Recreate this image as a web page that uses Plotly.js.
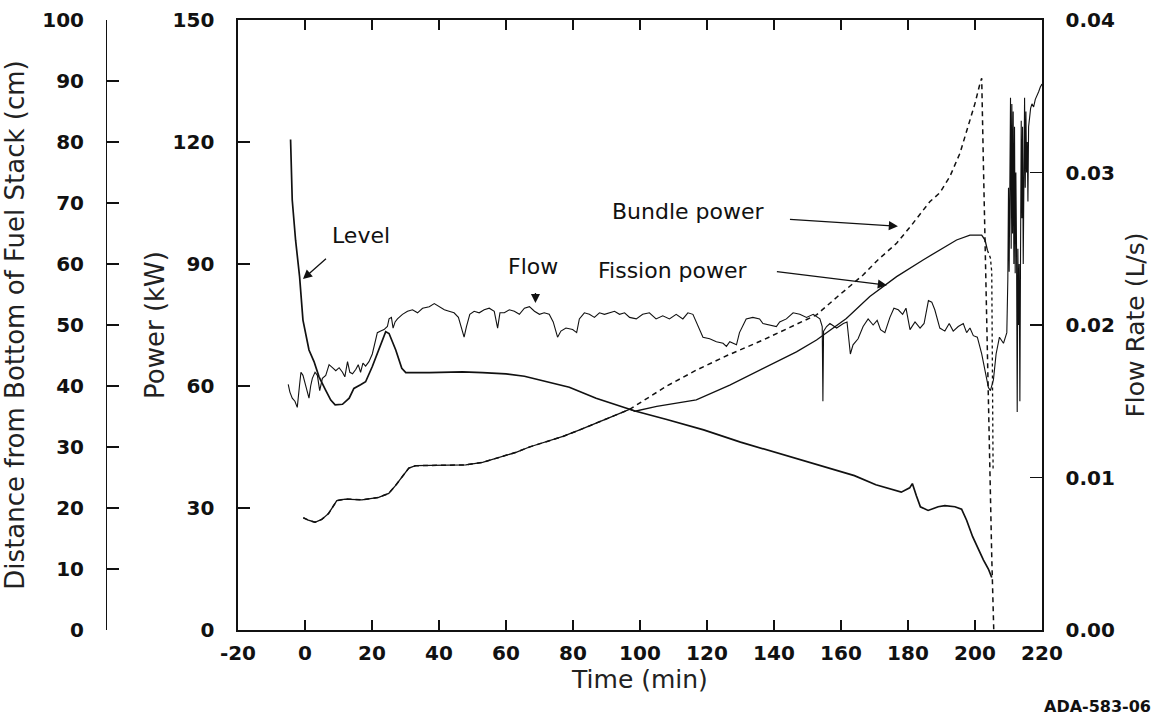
<!DOCTYPE html>
<html><head><meta charset="utf-8">
<script src="https://cdn.plot.ly/plotly-3.0.1.min.js"></script>
<style>html,body{margin:0;padding:0;background:#fff}#chart{width:1159px;height:719px}</style>
</head><body><div id="chart"></div>
<script>
// ---- Data ----
const timeTicks = [-20,0,20,40,60,80,100,120,140,160,180,200,220];
const timeTickText = ['-20','0','20','40','60','80','100','120','140','160','180','200','220'];
const powerTicks = [0,30,60,90,120,150];
const distTicks = [0,10,20,30,40,50,60,70,80,90,100];
const flowTicks = [0,0.01,0.02,0.03,0.04];

// Level (cm, left outer axis)
const levelT = [-4.3,-3.8,-2.8,-1.6,-0.6,1.2,2.7,4.2,6.2,7.7,9.0,11.2,13.2,14.6,16.6,18.1,20.1,22.1,24.1,25.1,27.1,28.9,30.1,37.1,47,53,60,65.5,72,78.9,86.9,96.9,98.5,108,119,130,140,151,158,164,170.4,175,178,180.5,181.3,182.5,183.7,186,189,191,194,196,197.5,199.3,201,202.5,204,205];
const levelD = [80.4,70.5,63.9,57.9,50.8,45.9,44.0,41.5,39.3,37.7,36.9,37.0,38.0,39.6,40.2,40.7,43.2,45.9,48.9,48.6,45.9,42.9,42.2,42.2,42.3,42.2,42.0,41.6,40.7,39.8,38.0,36.3,35.9,34.5,32.8,30.8,29.2,27.5,26.3,25.3,23.8,23.0,22.6,23.3,24.0,22.0,20.2,19.6,20.2,20.4,20.2,19.8,18.0,15.3,13.2,11.5,10.0,8.6];

// Bundle power (kW)
const bundleT = [-0.5,1,3,5,7,9.5,12,17,22,25,27,29,31,33,40,48,53,58,63,67,72,77,82,87,92,97,99.9,108,116.8,126,136.7,145,152.7,159,166.6,171,176.6,181,186.5,189.5,192.5,195.5,198,200,201.5,202,202.5,203,203.5,204,204.5,205,205.6];
const bundleP = [27.6,27.0,26.5,27.2,28.6,31.8,32.2,32.0,32.6,33.6,35.5,37.8,39.8,40.4,40.5,40.6,41.2,42.4,43.7,45.0,46.3,47.6,49.2,51.0,52.6,54.3,55.8,60.0,63.9,67.5,71.3,74.5,77.5,82.0,87.3,91.0,95.1,99.5,105.3,107.5,111.5,117.2,123.8,129.5,134.4,135.7,115,95,75,55,35,18,0];

// Fission power (kW)
const fissionT = [-0.5,1,3,5,7,9.5,12,17,22,25,27,29,31,33,40,48,53,58,63,67,72,77,82,87,92,97,98.5,105,110,116.8,126.8,136.7,146.7,152.7,161.6,168.6,176.6,184.5,189.5,191.5,194.5,198.5,202,203,203.7];
const fissionP = [27.6,27.0,26.5,27.2,28.6,31.8,32.2,32.0,32.6,33.6,35.5,37.8,39.8,40.4,40.5,40.6,41.2,42.4,43.7,45.0,46.3,47.6,49.2,51.0,52.6,54.3,53.8,55.0,55.7,56.6,60.2,64.3,68.4,71.3,76.6,82.0,86.9,91.0,93.4,94.3,95.9,97.1,97.1,95.9,93.4];
const fissionDropT = [203.7,204.6,205.0,205.2,205.4];
const fissionDropP = [93.4,91.5,88.0,60.0,39.5];

// Flow rate (L/s, right axis)
const flowT = [-5.0,-4.5,-3.8,-3.0,-2.3,-2.0,-1.6,-1.2,-0.6,0.0,0.7,1.2,1.7,2.2,3.0,3.7,4.4,5.2,6.2,7.2,8.2,9.2,10.2,11.2,11.9,12.7,13.4,14.2,15.2,15.9,16.6,17.3,18.1,19.1,20.1,20.9,21.6,22.6,23.6,24.6,25.1,25.8,26.3,26.9,27.6,29.1,30.6,32.1,33.6,35.1,37.1,38.6,40.1,41.6,43.0,44.5,45.8,46.5,47.5,48.2,49.2,50.5,52.0,53.5,55.0,56.5,57.5,58.2,59.5,61.0,62.5,64.0,65.5,67.0,68.5,70.0,71.4,72.9,74.1,75.4,76.4,77.9,79.9,81.1,81.9,83.4,84.9,86.4,87.9,89.4,90.9,92.4,93.9,95.4,96.9,98.9,100.8,102.8,104.8,106.8,108.8,110.8,112.8,114.3,115.8,116.8,117.8,118.8,120.8,122.8,124.8,125.8,126.8,128.8,129.7,130.7,131.7,133.7,135.7,136.7,138.7,140.7,141.7,143.7,145.7,147.7,149.7,151.7,153.7,154.4,154.6,154.8,155.7,156.7,158.7,160.7,161.8,162.8,163.6,165.1,166.6,168.1,169.6,170.8,171.8,173.1,174.6,175.8,177.1,178.4,179.4,180.6,182.1,183.6,184.8,186.1,187.1,188.0,189.5,191.0,192.3,193.5,195.0,196.5,197.5,198.5,199.5,200.7,202.0,203.0,204.0,204.6,205.5,206.3,207.3,208.5,209.5,209.8,210.0,210.2,210.4,210.6,210.8,211.0,211.2,211.4,211.6,211.8,212.0,212.2,212.4,212.6,212.8,213.0,213.2,213.4,213.6,213.8,214.0,214.2,214.4,214.6,214.8,215.0,215.2,215.4,215.6,215.8,216.0,216.3,216.6,217.0,217.5,218.0,218.5,219.0,219.5,220.0];
const flowF = [0.0161,0.0156,0.0152,0.0150,0.0146,0.0151,0.0161,0.0169,0.0167,0.0162,0.0157,0.0152,0.0160,0.0165,0.0169,0.0167,0.0157,0.0165,0.0167,0.0174,0.0172,0.0170,0.0172,0.0169,0.0166,0.0176,0.0169,0.0168,0.0171,0.0174,0.0169,0.0175,0.0173,0.0176,0.0181,0.0188,0.0195,0.0196,0.0197,0.0199,0.0204,0.0205,0.0198,0.0202,0.0204,0.0207,0.0209,0.0210,0.0208,0.0211,0.0212,0.0214,0.0212,0.0210,0.0209,0.0208,0.0205,0.0200,0.0192,0.0199,0.0207,0.0209,0.0208,0.0210,0.0211,0.0209,0.0198,0.0208,0.0208,0.0210,0.0209,0.0207,0.0211,0.0212,0.0209,0.0207,0.0208,0.0207,0.0202,0.0192,0.0196,0.0198,0.0197,0.0195,0.0204,0.0208,0.0207,0.0205,0.0208,0.0207,0.0208,0.0209,0.0207,0.0208,0.0205,0.0204,0.0207,0.0208,0.0204,0.0206,0.0204,0.0207,0.0204,0.0208,0.0207,0.0202,0.0196,0.0192,0.0191,0.0189,0.0188,0.0186,0.0189,0.0187,0.0195,0.0199,0.0204,0.0205,0.0204,0.0201,0.0200,0.0199,0.0202,0.0204,0.0208,0.0207,0.0205,0.0207,0.0204,0.0199,0.0150,0.0196,0.0199,0.0201,0.0198,0.0201,0.0202,0.0181,0.0187,0.0191,0.0199,0.0204,0.0200,0.0203,0.0197,0.0195,0.0205,0.0211,0.0210,0.0207,0.0211,0.0197,0.0202,0.0198,0.0201,0.0216,0.0215,0.0210,0.0198,0.0196,0.0201,0.0196,0.0199,0.0201,0.0195,0.0198,0.0193,0.0192,0.0181,0.0171,0.0159,0.0157,0.0164,0.0181,0.0192,0.0188,0.0195,0.0230,0.0290,0.0235,0.0320,0.0349,0.0250,0.0345,0.0260,0.0340,0.0240,0.0330,0.0234,0.0300,0.0251,0.0143,0.0250,0.0200,0.0240,0.0150,0.0250,0.0334,0.0270,0.0330,0.0240,0.0320,0.0349,0.0290,0.0340,0.0300,0.0320,0.0281,0.0330,0.0336,0.0342,0.0345,0.0343,0.0348,0.0350,0.0353,0.0356,0.0358];

// ---- Plot ----
const ink = '#111';
const tickFont = {family:'DejaVu Sans', size:20, weight:'bold', color:ink};
const titleFont = {family:'DejaVu Sans', size:26, color:'#222'};
const noteFont = {family:'DejaVu Sans', size:22, color:ink};

const traces = [
  {x:levelT, y:levelD, yaxis:'y2', mode:'lines', line:{color:ink, width:1.7}, name:'Level'},
  {x:bundleT, y:bundleP, yaxis:'y', mode:'lines', line:{color:ink, width:1.5, dash:'5px,4px'}, name:'Bundle power'},
  {x:fissionT, y:fissionP, yaxis:'y', mode:'lines', line:{color:ink, width:1.3}, name:'Fission power'},
  {x:fissionDropT, y:fissionDropP, yaxis:'y', mode:'lines', line:{color:ink, width:1.3, dash:'dot'}, name:'Fission power', showlegend:false},
  {x:flowT, y:flowF, yaxis:'y3', mode:'lines', line:{color:ink, width:1.1}, name:'Flow'}
];

const layout = {
  width:1159, height:719,
  margin:{l:10, r:117, t:20, b:89},
  paper_bgcolor:'#fff', plot_bgcolor:'#fff',
  showlegend:false,
  xaxis:{domain:[0.2209,1], range:[-20,220], tickvals:timeTicks, ticktext:timeTickText, ticks:'inside', ticklen:10, tickwidth:1.3,
    showline:true, linewidth:1.6, linecolor:ink, tickcolor:ink, mirror:'ticks', showgrid:false, zeroline:false,
    tickfont:tickFont, ticklabelstandoff:4,
    title:{text:'Time (min)', font:{family:'DejaVu Sans', size:25, color:'#222'}, standoff:0}},
  yaxis:{range:[0,150], tickvals:powerTicks, ticks:'inside', ticklen:12, tickwidth:1.3, showline:true, linewidth:1.6,
    linecolor:ink, tickcolor:ink, showgrid:false, zeroline:false, tickfont:tickFont, ticklabelstandoff:18,
    title:{text:'Power (kW)', font:titleFont, standoff:0}},
  yaxis2:{overlaying:'y', anchor:'free', position:0.093, side:'left', range:[0,100], tickvals:distTicks,
    ticks:'inside', ticklen:12, tickwidth:1.3, showline:true, linewidth:1.4, linecolor:ink, tickcolor:ink,
    showgrid:false, zeroline:false, tickfont:tickFont, ticklabelstandoff:18,
    title:{text:'Distance from Bottom of Fuel Stack (cm)', font:titleFont, standoff:10}},
  yaxis3:{overlaying:'y', anchor:'x', side:'right', range:[0,0.04], tickvals:flowTicks, tickformat:'.2f',
    ticks:'inside', ticklen:12, tickwidth:1.3, showline:true, linewidth:1.6, linecolor:ink, tickcolor:ink,
    showgrid:false, zeroline:false, tickfont:tickFont, ticklabelstandoff:18,
    title:{text:'Flow Rate (L/s)', font:{family:'DejaVu Sans', size:25, color:'#222'}, standoff:12}},
  annotations:[
    {x:16.7, y:97.1, xref:'x', yref:'y', text:'Level', showarrow:false, font:noteFont},
    {x:-0.6, y:86.3, xref:'x', yref:'y', text:' ', showarrow:true, ax:26, ay:-23, arrowhead:2, arrowsize:1.4, arrowwidth:1.3, arrowcolor:ink, standoff:0},
    {x:68.2, y:89.5, xref:'x', yref:'y', text:'Flow', showarrow:false, font:noteFont},
    {x:68.8, y:80.4, xref:'x', yref:'y', text:' ', showarrow:true, ax:0, ay:-20, arrowhead:2, arrowsize:1.4, arrowwidth:1.3, arrowcolor:ink, standoff:0},
    {x:114.5, y:102.8, xref:'x', yref:'y', text:'Bundle power', showarrow:false, font:noteFont},
    {x:177, y:99.3, xref:'x', yref:'y', text:' ', showarrow:true, ax:-111, ay:-7, arrowhead:2, arrowsize:1.4, arrowwidth:1.3, arrowcolor:ink, standoff:0},
    {x:109.9, y:88.3, xref:'x', yref:'y', text:'Fission power', showarrow:false, font:noteFont},
    {x:173.7, y:84.8, xref:'x', yref:'y', text:' ', showarrow:true, ax:-113, ay:-14, arrowhead:2, arrowsize:1.4, arrowwidth:1.3, arrowcolor:ink, standoff:0},
    {x:1.0, y:-0.126, xref:'paper', yref:'paper', xanchor:'left', yanchor:'middle', text:'ADA-583-06', showarrow:false,
      font:{family:'DejaVu Sans', size:16, weight:'bold', color:ink}}
  ]
};

Plotly.newPlot('chart', traces, layout, {staticPlot:true, displayModeBar:false});
</script>
</body></html>
